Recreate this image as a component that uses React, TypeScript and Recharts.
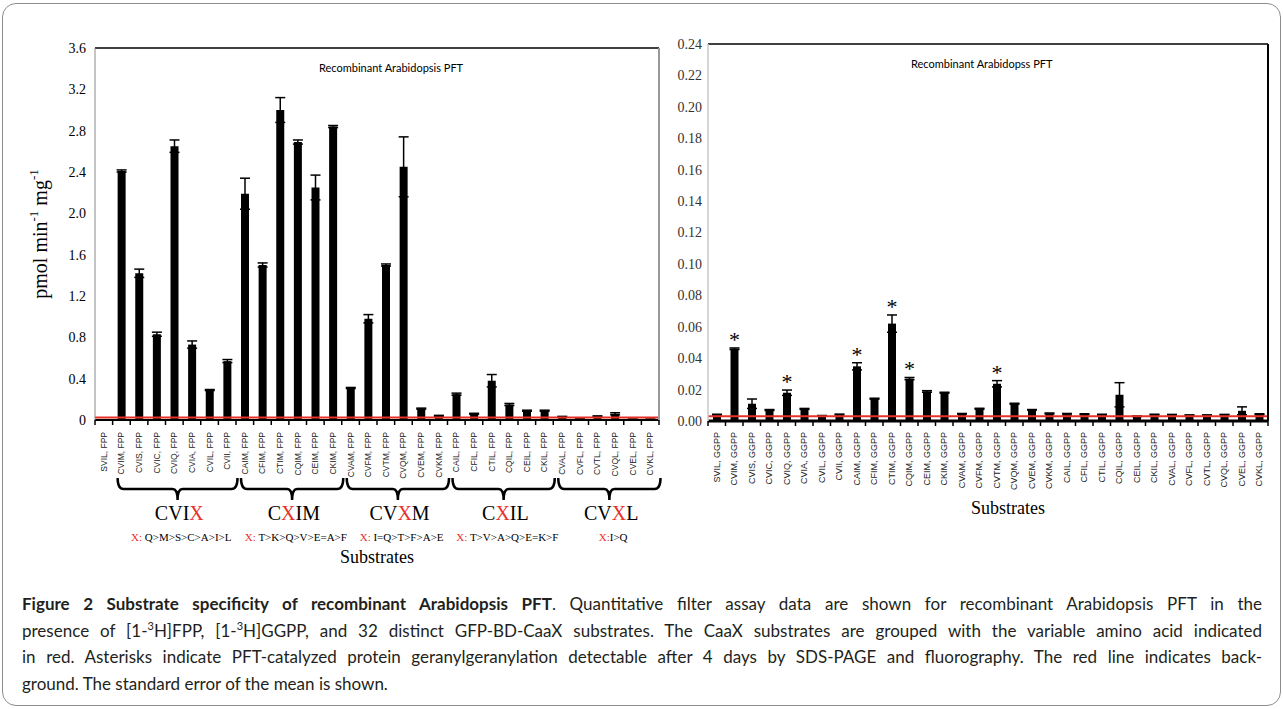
import {
  BarChart,
  Bar,
  XAxis,
  YAxis,
  ErrorBar,
  ReferenceLine,
  LabelList,
} from 'recharts';

const substrates = [
  'SVIL', 'CVIM', 'CVIS', 'CVIC', 'CVIQ', 'CVIA', 'CVIL', 'CVII',
  'CAIM', 'CFIM', 'CTIM', 'CQIM', 'CEIM', 'CKIM',
  'CVAM', 'CVFM', 'CVTM', 'CVQM', 'CVEM', 'CVKM',
  'CAIL', 'CFIL', 'CTIL', 'CQIL', 'CEIL', 'CKIL',
  'CVAL', 'CVFL', 'CVTL', 'CVQL', 'CVEL', 'CVKL',
];

const fppValues = [
  0.01, 2.41, 1.42, 0.83, 2.65, 0.73, 0.29, 0.57,
  2.19, 1.5, 3.0, 2.69, 2.25, 2.84,
  0.31, 0.98, 1.5, 2.45, 0.11, 0.04,
  0.25, 0.06, 0.38, 0.15, 0.09, 0.09,
  0.03, 0.015, 0.035, 0.06, 0.005, 0.005,
];
const fppErrors = [
  0, 0.01, 0.04, 0.02, 0.06, 0.035, 0.005, 0.015,
  0.15, 0.02, 0.12, 0.02, 0.12, 0.01,
  0.005, 0.04, 0.01, 0.29, 0.005, 0.005,
  0.01, 0.005, 0.06, 0.01, 0.005, 0.005,
  0.005, 0.005, 0.005, 0.01, 0.005, 0.005,
];

const ggppValues = [
  0.004, 0.046, 0.011, 0.007, 0.018, 0.0077, 0.0033, 0.0041,
  0.0348, 0.0142, 0.062, 0.027, 0.0188, 0.018,
  0.0046, 0.0078, 0.0237, 0.011, 0.0071, 0.0048,
  0.0043, 0.0043, 0.004, 0.0167, 0.003, 0.004,
  0.004, 0.0037, 0.0037, 0.004, 0.0065, 0.0043,
];
const ggppErrors = [
  0.0003, 0.0005, 0.003, 0.0003, 0.0017, 0.0003, 0.0002, 0.0003,
  0.0023, 0.0003, 0.0055, 0.0007, 0.0005, 0.0003,
  0.0002, 0.0003, 0.002, 0.0003, 0.0002, 0.0003,
  0.0005, 0.0003, 0.0003, 0.0077, 0.0002, 0.0003,
  0.0002, 0.0002, 0.0002, 0.0002, 0.0025, 0.0003,
];
// geranylgeranylation seen on SDS-PAGE
const ggppStars = ['CVIM', 'CVIQ', 'CAIM', 'CTIM', 'CQIM', 'CVTM'];

const groupNames = ['CVIX', 'CXIM', 'CVXM', 'CXIL', 'CVXL'];
const groupPrefixes = ['X: ', 'X: ', 'X: ', 'X: ', 'X:'];
const groupOrders = ['Q>M>S>C>A>I>L', 'T>K>Q>V>E=A>F', 'I=Q>T>F>A>E', 'T>V>A>Q>E=K>F', 'I>Q'];
const groupStarts = [1, 8, 14, 20, 26];
const groupSizes = [7, 6, 6, 6, 6];

const fppTicks = [0, 0.4, 0.8, 1.2, 1.6, 2.0, 2.4, 2.8, 3.2, 3.6];
const ggppTicks = [0, 0.02, 0.04, 0.06, 0.08, 0.1, 0.12, 0.14, 0.16, 0.18, 0.2, 0.22, 0.24];

const RED = '#e8302a';
const SERIF = '"Liberation Serif", "Times New Roman", serif';
const SANS = '"Liberation Sans", Arial, sans-serif';

const L = { x: 0, w: 680, h: 570, top: 48, right: 21, bottom: 20, left: 55, yw: 40, xh: 130 };
const R = { x: 660, w: 623, h: 560, top: 44, right: 15, bottom: 59, left: 8, yw: 40, xh: 80 };
const L_PW = L.w - L.left - L.yw - L.right;
const L_PH = L.h - L.top - L.bottom - L.xh;
const R_PW = R.w - R.left - R.yw - R.right;
const R_PH = R.h - R.top - R.bottom - R.xh;
const L_BAND = L_PW / substrates.length;
const R_BAND = R_PW / substrates.length;

const fppData = substrates.map((name, i) => ({ name, v: fppValues[i], e: fppErrors[i] }));
const ggppData = substrates.map((name, i) => ({
  name,
  v: ggppValues[i],
  e: ggppErrors[i],
  star: ggppStars.includes(name) ? '*' : '',
}));

function Brace({ x1, x2, y }: { x1: number; x2: number; y: number }) {
  const tip = y + 58;
  const line = y + 69;
  const spike = y + 80;
  const xm = (x1 + x2) / 2;
  const d = `M${x1},${tip} Q${x1},${line} ${x1 + 6},${line} L${xm - 5},${line} Q${xm},${line} ${xm},${spike} Q${xm},${line} ${xm + 5},${line} L${x2 - 6},${line} Q${x2},${line} ${x2},${tip}`;
  return <path d={d} stroke="#000" strokeWidth={2.5} fill="none" />;
}

function FppTick(props: any) {
  const { x, y, payload, index } = props;
  const g = groupStarts.indexOf(index);
  const ty = y + 12;
  let group = null;
  if (g >= 0) {
    const n = groupSizes[g];
    const left = x - L_BAND / 2;
    const right = left + n * L_BAND;
    const cx = x + ((n - 1) * L_BAND) / 2;
    const [pre, post] = groupNames[g].split('X');
    group = (
      <g>
        <Brace x1={left + 5} x2={right + 1.5} y={y} />
        <text x={cx + 5} y={y + 93} textAnchor="middle" dominantBaseline="central" fontFamily={SERIF} fontSize={20} fill="#000">
          {pre}
          <tspan fill={RED}>X</tspan>
          {post}
        </text>
        <text x={cx + 7} y={y + 117} textAnchor="middle" dominantBaseline="central" fontFamily={SERIF} fontSize={11} fill="#000">
          <tspan fill={RED}>{groupPrefixes[g]}</tspan>
          {groupOrders[g]}
        </text>
      </g>
    );
  }
  return (
    <g>
      <line x1={x - L_BAND / 2} x2={x - L_BAND / 2} y1={y} y2={y + 5} stroke="#000" strokeWidth={1.5} />
      {index === substrates.length - 1 && (
        <line x1={x + L_BAND / 2} x2={x + L_BAND / 2} y1={y} y2={y + 5} stroke="#000" strokeWidth={1.5} />
      )}
      <text
        x={x}
        y={ty}
        transform={`rotate(-90 ${x} ${ty})`}
        textAnchor="end"
        dominantBaseline="central"
        fontFamily={SANS}
        fontSize={8.5}
        fill="#222"
      >
        {`${payload.value}, FPP`}
      </text>
      {group}
    </g>
  );
}

function GgppTick(props: any) {
  const { x, y, payload, index } = props;
  const ty = y + 11;
  return (
    <g>
      <line x1={x - R_BAND / 2} x2={x - R_BAND / 2} y1={y} y2={y + 5} stroke="#000" strokeWidth={1.5} />
      {index === substrates.length - 1 && (
        <line x1={x + R_BAND / 2} x2={x + R_BAND / 2} y1={y} y2={y + 5} stroke="#000" strokeWidth={1.5} />
      )}
      <text
        x={x}
        y={ty}
        transform={`rotate(-90 ${x} ${ty})`}
        textAnchor="end"
        dominantBaseline="central"
        fontFamily={SANS}
        fontSize={9}
        fill="#222"
      >
        {`${payload.value}, GGPP`}
      </text>
    </g>
  );
}

function StarLabel(props: any) {
  const { x, y, width, height, value, index } = props;
  if (!value) return null;
  const errPx = (ggppErrors[index] * height) / ggppValues[index];
  const cy = y - errPx - 11;
  return (
    <text x={x + width / 2} y={cy + 10} textAnchor="middle" fontFamily={SERIF} fontSize={22} fill="#000">
      {value}
    </text>
  );
}

function FppYLabel(props: any) {
  const { viewBox } = props;
  const cx = viewBox.x - 15;
  const cy = viewBox.y + viewBox.height / 2;
  return (
    <text
      x={cx}
      y={cy}
      transform={`rotate(-90 ${cx} ${cy})`}
      textAnchor="middle"
      dominantBaseline="central"
      fontFamily={SERIF}
      fontSize={20}
      fill="#000"
    >
      pmol min
      <tspan dy={-7} fontSize={13}>-1</tspan>
      <tspan dy={7}> mg</tspan>
      <tspan dy={-7} fontSize={13}>-1</tspan>
    </text>
  );
}

function substratesLabel(dx: number, dy: number) {
  return (props: any) => {
    const { viewBox } = props;
    return (
      <text
        x={viewBox.x + viewBox.width / 2 + dx}
        y={viewBox.y + dy}
        textAnchor="middle"
        dominantBaseline="central"
        fontFamily={SERIF}
        fontSize={18}
        fill="#000"
      >
        Substrates
      </text>
    );
  };
}

function FppChart() {
  return (
    <BarChart
      width={L.w}
      height={L.h}
      data={fppData}
      margin={{ top: L.top, right: L.right, bottom: L.bottom, left: L.left }}
    >
      <XAxis
        dataKey="name"
        interval={0}
        height={L.xh}
        tick={(p: any) => <FppTick {...p} />}
        tickLine={false}
        tickSize={0}
        tickMargin={0}
        axisLine={{ stroke: '#000', strokeWidth: 2 }}
        label={{ content: substratesLabel(0, 137) }}
      />
      <YAxis
        domain={[0, 3.6]}
        ticks={fppTicks}
        width={L.yw}
        tickLine={false}
        tickSize={0}
        tickMargin={9}
        tickFormatter={(v: number) => (v === 0 ? '0' : v.toFixed(1))}
        tick={{ fontFamily: SERIF, fontSize: 14, fill: '#000' }}
        axisLine={{ stroke: '#8a8a8a' }}
        label={{ content: (p: any) => <FppYLabel {...p} /> }}
      />
      <Bar dataKey="v" fill="#000" barSize={8} isAnimationActive={false}>
        <ErrorBar dataKey="e" direction="y" width={5} stroke="#000" strokeWidth={1.5} isAnimationActive={false} />
      </Bar>
      <ReferenceLine y={3.6} stroke="#000" strokeWidth={1.5} />
      <ReferenceLine y={0.025} stroke={RED} strokeWidth={2} />
    </BarChart>
  );
}

function GgppChart() {
  return (
    <BarChart
      width={R.w}
      height={R.h}
      data={ggppData}
      margin={{ top: R.top, right: R.right, bottom: R.bottom, left: R.left }}
    >
      <XAxis
        dataKey="name"
        interval={0}
        height={R.xh}
        tick={(p: any) => <GgppTick {...p} />}
        tickLine={false}
        tickSize={0}
        tickMargin={0}
        axisLine={{ stroke: '#000', strokeWidth: 3 }}
        label={{ content: substratesLabel(20, 87) }}
      />
      <YAxis
        domain={[0, 0.24]}
        ticks={ggppTicks}
        width={R.yw}
        tickLine={false}
        tickSize={0}
        tickMargin={6}
        tickFormatter={(v: number) => v.toFixed(2)}
        tick={{ fontFamily: SERIF, fontSize: 14, fill: '#333' }}
        axisLine={{ stroke: '#c8c8c8', strokeWidth: 1.5 }}
      />
      <Bar dataKey="v" fill="#000" barSize={8} isAnimationActive={false}>
        <ErrorBar dataKey="e" direction="y" width={5} stroke="#000" strokeWidth={1.5} isAnimationActive={false} />
        <LabelList dataKey="star" content={(p: any) => <StarLabel {...p} />} />
      </Bar>
      <ReferenceLine y={0.24} stroke="#000" strokeWidth={1.5} />
      <ReferenceLine y={0.003} stroke={RED} strokeWidth={2} />
    </BarChart>
  );
}

const captionLine: React.CSSProperties = {
  height: 26.5,
  lineHeight: '26.5px',
  whiteSpace: 'nowrap',
  textAlign: 'justify',
  textAlignLast: 'justify',
};
const sup: React.CSSProperties = { fontSize: '0.65em', verticalAlign: 'super', lineHeight: 0 };

export default function App() {
  return (
    <div style={{ position: 'absolute', left: 0, top: 0, width: 1283, height: 709, background: '#fff', overflow: 'hidden' }}>
      <div
        style={{
          position: 'absolute',
          left: 2,
          top: 3,
          width: 1277,
          height: 701,
          border: '1px solid #8c8c8c',
          borderRadius: 14,
        }}
      />
      <div style={{ position: 'absolute', left: L.x, top: 0 }}>
        <FppChart />
      </div>
      <div style={{ position: 'absolute', left: R.x, top: 0 }}>
        <GgppChart />
      </div>
      {/* right-hand edges of the two plot frames */}
      <div
        style={{
          position: 'absolute',
          left: L.x + L.left + L.yw + L_PW - 1,
          top: L.top,
          width: 1.5,
          height: L_PH,
          background: '#999',
        }}
      />
      <div
        style={{
          position: 'absolute',
          left: R.x + R.left + R.yw + R_PW - 1,
          top: R.top,
          width: 2,
          height: R_PH,
          background: '#000',
        }}
      />
      <div style={{ position: 'absolute', left: 319, top: 61, fontFamily: 'Lato', fontSize: 11, lineHeight: '14px', color: '#000', whiteSpace: 'nowrap' }}>
        Recombinant Arabidopsis PFT
      </div>
      <div style={{ position: 'absolute', left: 911, top: 57, fontFamily: 'Lato', fontSize: 11, lineHeight: '14px', color: '#000', whiteSpace: 'nowrap' }}>
        Recombinant Arabidopss PFT
      </div>
      <div
        style={{
          position: 'absolute',
          left: 22,
          top: 591,
          width: 1240,
          fontFamily: 'Lato',
          fontSize: 17,
          color: '#231f20',
        }}
      >
        <div style={captionLine}>
          <b>Figure 2 Substrate specificity of recombinant Arabidopsis PFT</b>. Quantitative filter assay data are shown
          for recombinant Arabidopsis PFT in the
        </div>
        <div style={captionLine}>
          presence of [1-<span style={sup}>3</span>H]FPP, [1-<span style={sup}>3</span>H]GGPP, and 32 distinct
          GFP-BD-CaaX substrates. The CaaX substrates are grouped with the variable amino acid indicated
        </div>
        <div style={captionLine}>
          in red. Asterisks indicate PFT-catalyzed protein geranylgeranylation detectable after 4 days by SDS-PAGE and
          fluorography. The red line indicates back-
        </div>
        <div style={{ ...captionLine, textAlign: 'left', textAlignLast: 'left' }}>
          ground. The standard error of the mean is shown.
        </div>
      </div>
    </div>
  );
}
